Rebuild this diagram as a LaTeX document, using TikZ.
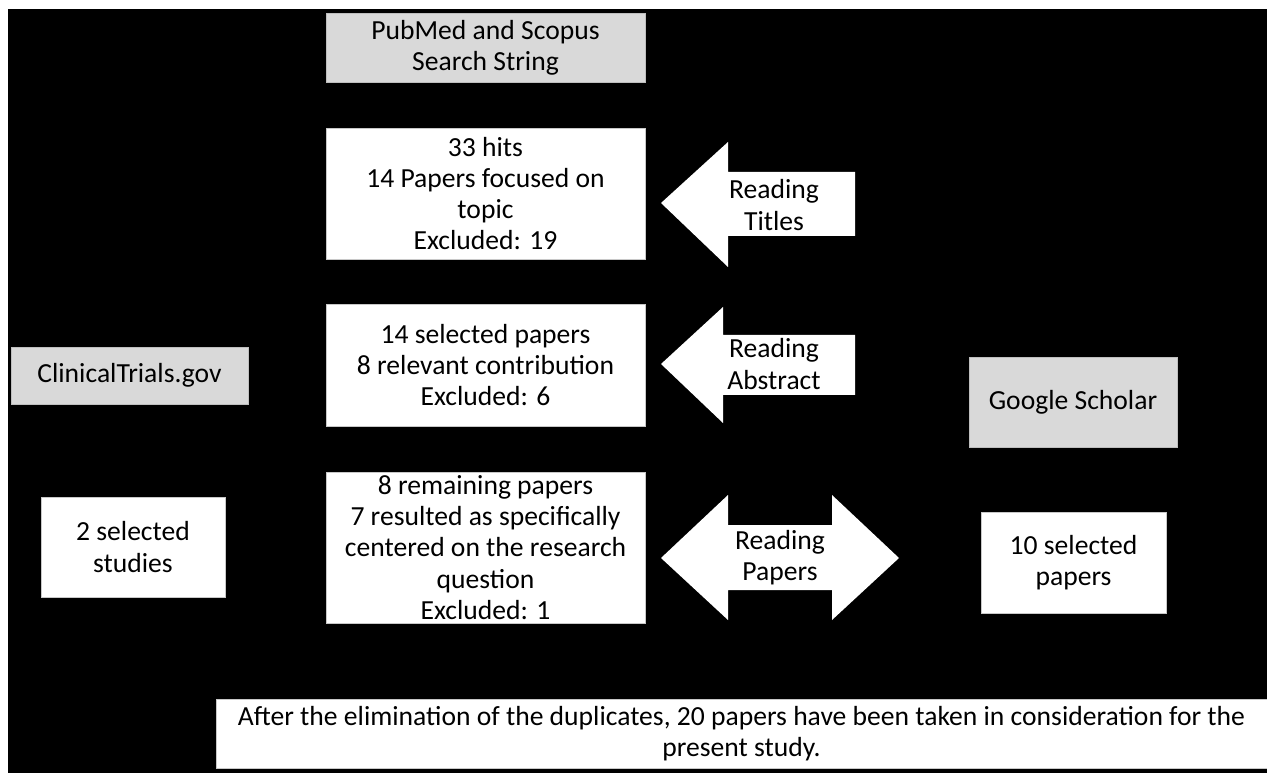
\documentclass[tikz,border=0pt]{standalone}
\usepackage{fontspec}
\setmainfont{Carlito}
\newlength\pxu
\setlength\pxu{0.75pt}
\begin{document}
\begin{tikzpicture}[x=0.75pt,y=-0.75pt,
  txt/.style={font=\fontsize{20.7pt}{23.4pt}\selectfont, align=center, inner sep=0pt},
  graybox/.style={txt, fill={rgb,255:red,217;green,217;blue,217}, draw={rgb,255:red,190;green,190;blue,190}, line width=0.6pt},
  whitebox/.style={txt, fill=white, draw={rgb,255:red,200;green,200;blue,200}, line width=0.6pt},
  bigarrow/.style={fill=white, draw=none}]
\useasboundingbox (0,0) rectangle (1267,773);
\fill[white] (0,0) rectangle (1267,773);
\fill[black] (8,9) rectangle (1267,773);

\node[graybox, minimum width=319\pxu, minimum height=69\pxu] (pub) at (485.5,47.5) {PubMed and Scopus\\Search String};
\node[whitebox, minimum width=319\pxu, minimum height=131\pxu] (hits) at (485.5,193.5) {33 hits\\14 Papers focused on\\topic\\Excluded: 19};
\node[whitebox, minimum width=319\pxu, minimum height=122\pxu] (sel) at (485.5,365) {14 selected papers\\8 relevant contribution\\Excluded: 6};
\node[whitebox, minimum width=319\pxu, minimum height=151\pxu] (rem) at (485.5,547.5) {8 remaining papers\\7 resulted as specifically\\centered on the research\\question\\Excluded: 1};
\node[graybox, minimum width=237\pxu, minimum height=57\pxu] (ct) at (129.5,375.5) {ClinicalTrials.gov};
\node[whitebox, minimum width=184\pxu, minimum height=100\pxu] (two) at (133,547) {2 selected\\studies};
\node[graybox, minimum width=208\pxu, minimum height=90\pxu] (gs) at (1073,402) {Google Scholar};
\node[whitebox, minimum width=185\pxu, minimum height=101\pxu] (ten) at (1073.5,562.5) {10 selected\\papers};
\node[whitebox, minimum width=1051\pxu, minimum height=69\pxu] (final) at (741.5,733.5) {After the elimination of the duplicates, 20 papers have been taken in consideration for the\\present study.};

% Reading Titles arrow
\fill[bigarrow] (661,203) -- (728,142) -- (728,172) -- (855,172) -- (855,236) -- (728,236) -- (728,267) -- cycle;
\node[txt] (rt) at (774,205) {Reading\\Titles};
% Reading Abstract arrow
\fill[bigarrow] (661,364) -- (723,307) -- (723,335) -- (855,335) -- (855,395) -- (723,395) -- (723,423) -- cycle;
\node[txt] (ra) at (774,364) {Reading\\Abstract};
% Reading Papers double arrow
\fill[bigarrow] (661,558) -- (728,495) -- (728,525) -- (832,525) -- (832,495) -- (899,558) -- (832,620) -- (832,590) -- (728,590) -- (728,620) -- cycle;
\node[txt] (rp) at (780,558) {Reading\\Papers};
\end{tikzpicture}
\end{document}
